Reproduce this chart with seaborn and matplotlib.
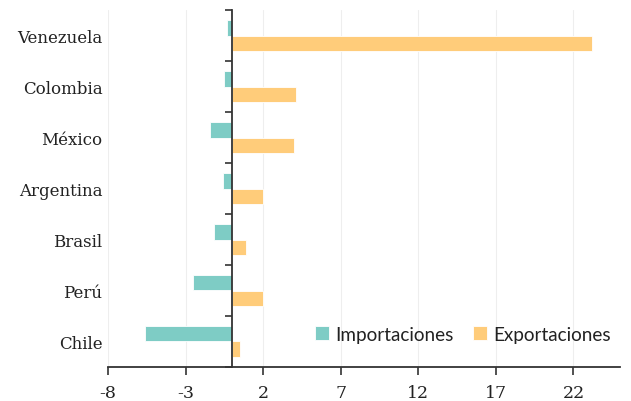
import matplotlib
matplotlib.use("Agg")
import matplotlib.pyplot as plt
import seaborn as sns
import pandas as pd
import numpy as np

paises = ["Venezuela", "Colombia", "México", "Argentina", "Brasil", "Perú", "Chile"]
importaciones = [-0.3, -0.5, -1.4, -0.6, -1.2, -2.5, -5.6]
exportaciones = [23.2, 4.1, 4.0, 2.0, 0.9, 2.0, 0.5]
series = ["Importaciones", "Exportaciones"]
colores = ["#7ECCC5", "#FFCC7A"]
xticks = [-8, -3, 2, 7, 12, 17, 22]

df = pd.DataFrame({
    "pais": paises * 2,
    "valor": importaciones + exportaciones,
    "serie": [series[0]] * len(paises) + [series[1]] * len(paises),
})

sns.set_theme(style="white")
fig = plt.figure(figsize=(6.31, 4.02), dpi=100)
ax = fig.add_axes([108 / 631, (402 - 368) / 402, (620 - 108) / 631, (368 - 11) / 402])

sns.barplot(data=df, y="pais", x="valor", hue="serie", order=paises,
            hue_order=series, palette=colores, saturation=1, orient="h", width=0.6,
            edgecolor="white", linewidth=0.6, ax=ax, zorder=3)

ax.set_xlim(-8, 25)
ax.set_ylim(len(paises) - 0.5, -0.5)
ax.set_xlabel("")
ax.set_ylabel("")

# x axis
ax.set_xticks(xticks)
ax.set_xticklabels([str(t) for t in xticks], fontsize=12.5, family="DejaVu Serif", color="#222222")
ax.tick_params(axis="x", length=6, width=1.2, color="#333333", direction="out", pad=6, bottom=True)
ax.grid(axis="x", color="#eeeeee", linewidth=0.8, zorder=0)
ax.grid(axis="y", visible=False)
for s in ["top", "right"]:
    ax.spines[s].set_visible(False)
ax.spines["bottom"].set_color("#333333")
ax.spines["bottom"].set_linewidth(1.3)

# category labels on the left, no spine
ax.spines["left"].set_visible(False)
ax.set_yticks(range(len(paises)))
ax.set_yticklabels(paises, fontsize=12, family="DejaVu Serif", color="#222222")
ax.tick_params(axis="y", length=0, pad=4)

# zero line with boundary ticks
sec = ax.secondary_yaxis(8 / 33)
sec.set_zorder(10)
sec.set_yticks(np.arange(len(paises) + 1) - 0.5)
sec.set_yticklabels([])
sec.tick_params(axis="y", which="both", left=True, right=False, direction="out",
                length=5, width=1.2, color="#333333")
sec.spines["left"].set_color("#333333")
sec.spines["left"].set_linewidth(1.3)

leg = ax.legend(loc="lower right", bbox_to_anchor=(1.016, 0.02), ncol=2, frameon=False,
                handlelength=0.75, handleheight=0.75, handletextpad=0.35, columnspacing=1.0,
                prop={"family": "Lato", "size": 13.6})
for t in leg.get_texts():
    t.set_color("#222222")

fig.savefig("out.png", dpi=100)
